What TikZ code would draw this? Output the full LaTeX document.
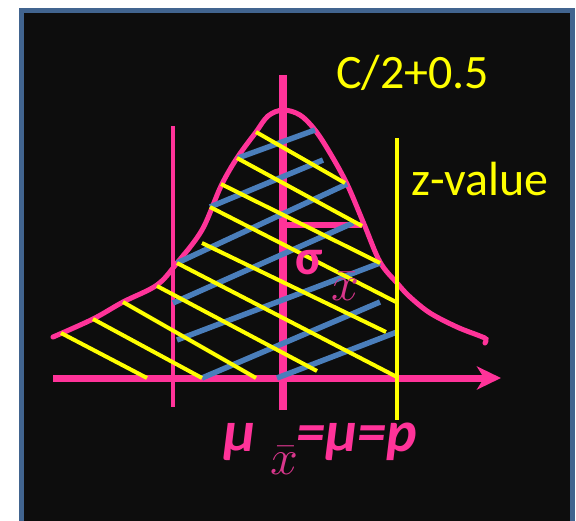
\documentclass[tikz,border=0pt]{standalone}
\usepackage{fix-cm}
\usepackage{fontspec}
\setmainfont{Carlito}
\usetikzlibrary{arrows.meta,positioning}
\definecolor{panelBlack}{HTML}{0D0D0D}
\definecolor{frameBlue}{HTML}{41648F}
\definecolor{curvePink}{HTML}{FF3399}
\definecolor{subPink}{HTML}{D9368C}
\definecolor{markYellow}{HTML}{FFFF00}
\definecolor{hatchBlue}{HTML}{4A7EBB}
\tikzset{
  frame card/.style={
    draw=frameBlue,
    fill=panelBlack,
    line width=5pt
  },
  axis edge/.style={
    -{Stealth[length=24pt,width=23pt,inset=7pt]},
    draw=curvePink,
    line width=7pt
  },
  bell curve/.style={
    draw=curvePink,
    line width=5pt,
    line cap=round
  },
  mean line/.style={draw=curvePink,line width=7.5pt},
  bound line/.style={draw=curvePink,line width=3.3pt},
  z line/.style={draw=markYellow,line width=4pt},
  hatch yellow/.style={draw=markYellow,line width=4pt},
  hatch blue/.style={draw=hatchBlue,line width=5.5pt},
  value label/.style={
    font=\fontsize{48}{48}\selectfont,
    text=markYellow,
    inner sep=0pt,
    anchor=base west
  },
  mean label/.style={
    font=\fontsize{58}{58}\selectfont\bfseries\itshape,
    text=curvePink,
    inner sep=0pt,
    anchor=base west
  },
  sigma label/.style={
    font=\fontsize{50}{50}\selectfont\bfseries,
    text=curvePink,
    inner sep=0pt,
    anchor=base west
  },
  bar label/.style={
    font=\fontsize{50}{50}\selectfont,
    text=subPink,
    inner sep=0pt,
    anchor=base west
  }
}

\begin{document}
\begin{tikzpicture}[x=1pt,y=-1pt]
  \fill[white] (0,0) rectangle (576,520);
  \useasboundingbox (0,0) rectangle (576,520);
  \begin{scope}
    \clip (0,0) rectangle (576,520);
    \draw[frame card] (21.5,10.5) rectangle (572.5,540);
  \end{scope}

  % curve and reference lines
  \draw[bell curve] plot[smooth,tension=0.55] coordinates {
    (53,337) (93,319) (123,302) (157,285) (177,263) (202,230) (221,186)
    (237,158) (256,132) (268,116) (283,110) (300,115) (315,130) (330,153)
    (347,184) (364,224) (380,262) (397,283) (410,297) (430,313) (457,327)
    (480,336) (486,339) (485,343)};
  \draw[bound line] (173,126) -- (173,407);
  \draw[mean line] (283,75) -- (283,410);
  \draw[mean line,line width=6pt] (283,225) -- (362,225);
  \draw[axis edge] (53,378) -- (501,378);

  % hatching
  \foreach \xa/\ya/\xb/\yb in {238/158/315/130, 210/207/323/160,
      177/263/347/184, 173/303/353/223, 177/340/380/263,
      202/378/380/302, 277/378/397/332}
    \draw[hatch blue] (\xa,\ya) -- (\xb,\yb);
  \foreach \xa/\ya/\xb/\yb in {256/132/345/183, 237/158/362/226,
      221/184/380/263, 210/207/396/302, 202/243/386/332,
      177/263/397/377, 157/286/317/371, 123/302/256/378,
      93/319/202/378, 61/333/147/378}
    \draw[hatch yellow] (\xa,\ya) -- (\xb,\yb);
  \draw[z line] (397,138) -- (397,420);

  % labels
  \node[value label] (area) at (336,88) {C/2+0.5};
  \node[value label] (zvalue) at (411,195) {z-value};
  \node[sigma label] (sigma) at (295,274) {σ};
  \node[bar label] (sigmabar) at (331,300) {$\bar{x}$};
  \node[mean label] (mu) at (223,451) {μ};
  \node[bar label] (mubar) at (270,474) {$\bar{x}$};
  \node[mean label] (equals) at (296,451) {=μ=p};
\end{tikzpicture}
\end{document}
